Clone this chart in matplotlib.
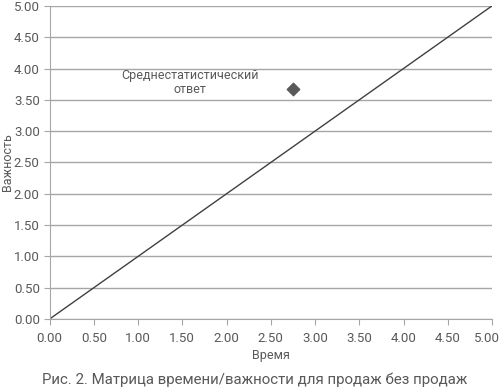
import matplotlib.pyplot as plt
import matplotlib.transforms as mtransforms

# -----------------------------
# DATA
# -----------------------------

line_x = [0, 5]
line_y = [0, 5]

point_x = [2.75]
point_y = [3.67]
point_label = "Среднестатистический\nответ"

ticks = [0, 0.5, 1, 1.5, 2, 2.5, 3, 3.5, 4, 4.5, 5]

# -----------------------------
# STYLE
# -----------------------------

plt.rcParams["font.family"] = ["Roboto", "DejaVu Sans"]
text_color = "#595959"
grid_color = "#a6a6a6"

# -----------------------------
# PLOT
# -----------------------------

fig = plt.figure(figsize=(5, 3.92), dpi=100)
ax = fig.add_axes([0.099, 0.186, 0.885, 0.799])

ax.plot(line_x, line_y, color="#404040", linewidth=1.0)
ax.scatter(point_x, point_y, marker="D", s=40, color="#595959", zorder=3)

ax.text(1.59, 3.77, point_label, ha="center", va="center",
        fontsize=9, color=text_color, linespacing=1.1)

ax.set_xlim(0, 5)
ax.set_ylim(0, 5)
ax.set_xticks(ticks)
ax.set_yticks(ticks)
ax.set_xticklabels([f"{t:.2f}" for t in ticks])
ax.set_yticklabels([f"{t:.2f}" for t in ticks])

ax.yaxis.grid(True, color=grid_color, linewidth=1.0)
ax.set_axisbelow(True)

for side in ["top", "right"]:
    ax.spines[side].set_visible(False)
for side in ["left", "bottom"]:
    ax.spines[side].set_color(grid_color)

ax.tick_params(axis="both", colors=grid_color, labelcolor=text_color,
               labelsize=9.5, length=4)
ax.tick_params(axis="x", pad=5)
ax.tick_params(axis="y", pad=3)

# keep the last x label inside the picture
last = ax.get_xticklabels()[-1]
shift = mtransforms.ScaledTranslation(-5 / 100, 0, fig.dpi_scale_trans)
last.set_transform(last.get_transform() + shift)

ax.set_xlabel("Время", fontsize=9, color=text_color, va="center")
ax.xaxis.set_label_coords(0.5, -0.115)
ax.set_ylabel("Важность", fontsize=9, color=text_color, va="center")
ax.yaxis.set_label_coords(-0.094, 0.5)

fig.text(0.51, 0.03, "Рис. 2. Матрица времени/важности для продаж без продаж",
         ha="center", va="center", fontsize=10.8, color=text_color)

plt.savefig("out.png", dpi=100)
